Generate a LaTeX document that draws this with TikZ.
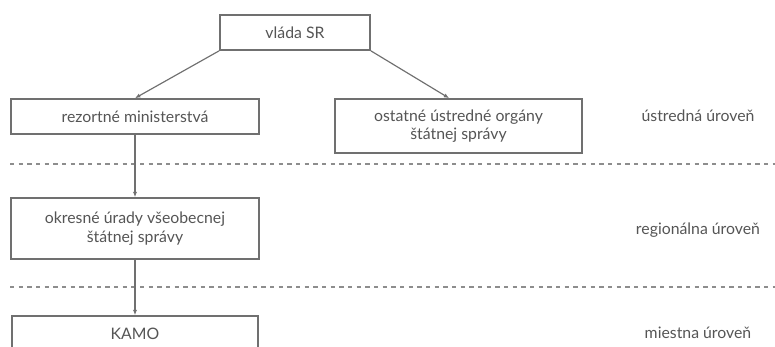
\documentclass[tikz,border=0pt]{standalone}
\usepackage{fontspec}
\setmainfont{Lato}
\usepackage{xcolor}
\usetikzlibrary{positioning,arrows.meta}

\definecolor{linegray}{HTML}{707070}
\definecolor{textgray}{HTML}{555555}

\begin{document}
\begin{tikzpicture}[
    x=0.03cm, y=-0.03cm,
    box/.style={rectangle, draw=linegray, line width=1.4pt, minimum width=7.44cm, minimum height=1.05cm, align=center, fill=white, text=textgray},
    arrow/.style={-{Latex[length=1.6mm, width=1.3mm]}, draw=linegray, line width=1pt},
    sep/.style={draw=linegray!80, line width=1.3pt, dash pattern=on 0.13cm off 0.13cm},
    level/.style={text=textgray},
    every node/.style={font=\fontsize{13.5}{16}\selectfont},
]
\useasboundingbox (0,0) rectangle (775,347);
\node[box, minimum width=4.5cm] (vlada) at (295,32.5) {vláda SR};
\node[box] (rezort) at (135,116.5) {rezortné ministerstvá};
\node[box, minimum width=7.41cm, minimum height=1.62cm] (ostatne) at (458.5,126) {ostatné ústredné orgány\\ štátnej správy};
\node[box, minimum height=1.83cm] (okres) at (135,228.5) {okresné úrady všeobecnej\\ štátnej správy};
\node[box, minimum width=7.38cm, minimum height=1.08cm] (kamo) at (135,334) {KAMO};
\node[level] (ustredna) at (698,116) {ústredná úroveň};
\node[level] (regionalna) at (698,230) {regionálna úroveň};
\node[level] (miestna) at (698,333) {miestna úroveň};
% oddelenie urovni
\draw[sep] (10,164) -- (775,164);
\draw[sep] (10,287) -- (775,287);
\draw[arrow] (vlada.south west) -- (rezort.north);
\draw[arrow] (vlada.south east) -- ([xshift=-8]ostatne.north);
\draw[arrow] (rezort) -- (okres);
\draw[arrow] (okres) -- (kamo);
\end{tikzpicture}
\end{document}
